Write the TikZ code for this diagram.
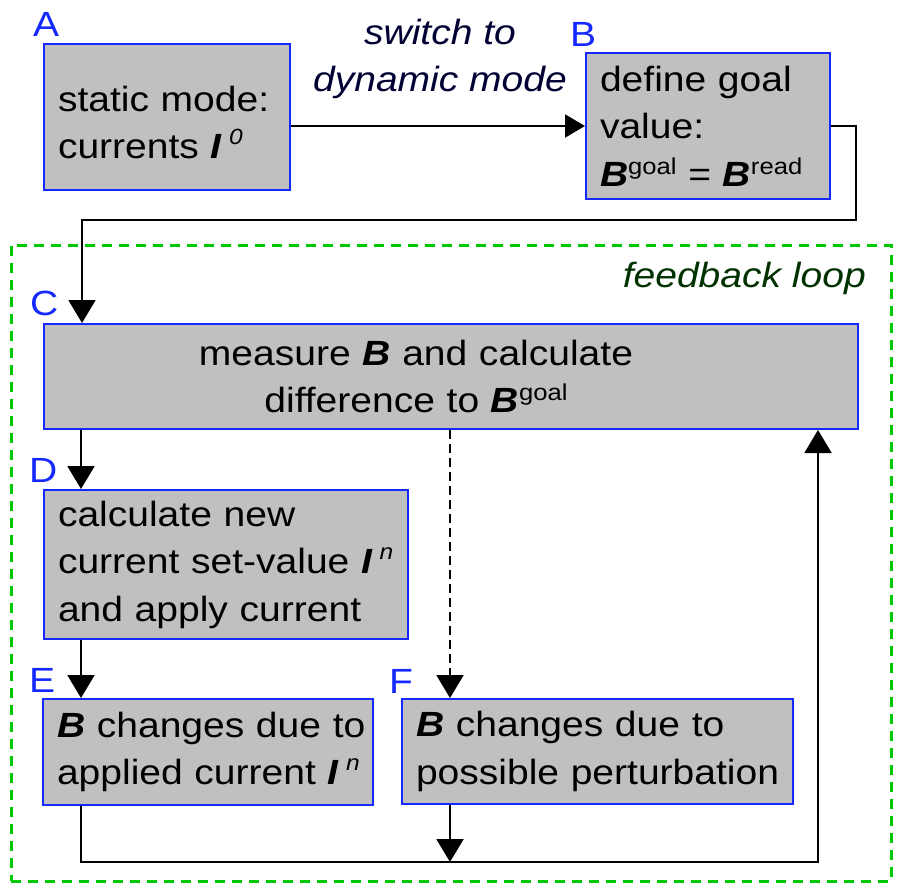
\documentclass[tikz,border=0pt]{standalone}
\usepackage{fontspec}
\setmainfont[FakeStretch=1.115]{Liberation Sans}
\usetikzlibrary{arrows.meta}
\definecolor{boxgray}{RGB}{192,192,192}
\definecolor{boxblue}{RGB}{20,40,255}
\definecolor{loopgreen}{RGB}{0,200,0}
\definecolor{navytext}{RGB}{0,0,50}
\definecolor{loopgreentext}{RGB}{0,50,0}
\newcommand\bfi[1]{\textbf{\textit{#1}}}
\newcommand\supbig[1]{\raisebox{12pt}{\fontsize{23}{23}\selectfont #1}}
\newcommand\supsmall[1]{\kern7pt\raisebox{14pt}{\fontsize{22}{22}\selectfont\itshape #1}}
\begin{document}
\begin{tikzpicture}[x=1pt,y=-1pt,
  font=\fontsize{35}{47.5}\selectfont,
  box/.style={draw=boxblue, fill=boxgray, line width=2pt, inner xsep=14pt, inner ysep=0pt, align=left, anchor=north west},
  lab/.style={text=boxblue, inner sep=0pt, anchor=base west},
  conn/.style={line width=2pt, -{Triangle[length=23pt,width=27pt]}},
  connsmall/.style={line width=2pt, -{Triangle[length=20pt,width=23pt]}},
  loopbox/.style={draw=loopgreen, line width=2.5pt, dash pattern=on 10pt off 7pt, inner sep=0pt, anchor=north west}
]
\useasboundingbox (0,0) rectangle (902,888);

% feedback loop frame
\node[loopbox, minimum width=880pt, minimum height=636pt] (loop) at (10,244) {};
\node[text=loopgreentext, font=\fontsize{35}{47.5}\selectfont\itshape, inner sep=0pt, anchor=base east] (looplab) at (866,287) {feedback loop};

% boxes
\node[box, text width=218pt, minimum height=146pt] (A) at (43,43)
  {\mbox{\rule{0pt}{36pt}static mode:}\\\mbox{currents \bfi{I}\supsmall{0}}};
\node[box, text width=216pt, minimum height=146pt] (B) at (585,52)
  {\mbox{define goal}\\\mbox{value:}\\\mbox{\bfi{B}\supbig{goal} = \bfi{B}\supbig{read}}};
\node[box, text width=786pt, minimum height=105pt, align=center] (C) at (43,323)
  {measure \bfi{B} and calculate\kern70pt\\difference to \bfi{B}\supbig{goal}\kern70pt};
\node[box, text width=336pt, minimum height=149pt] (D) at (43,489)
  {\mbox{calculate new}\\\mbox{current set-value \bfi{I}\supsmall{n}}\\\mbox{and apply current}};
\node[box, text width=302pt, minimum height=106pt] (E) at (42,698)
  {\mbox{\bfi{B} changes due to}\\\mbox{applied current \bfi{I}\supsmall{n}}};
\node[box, text width=363pt, minimum height=105pt] (F) at (401,698)
  {\mbox{\bfi{B} changes due to}\\\mbox{possible perturbation}};

% letters
\node[lab] (LA) at (33,37) {A};
\node[lab] (LB) at (570,47) {B};
\node[lab] (LC) at (30,315) {C};
\node[lab] (LD) at (29,482) {D};
\node[lab] (LE) at (29,692) {E};
\node[lab] (LF) at (389,693) {F};

% switch text
\node[text=navytext, font=\fontsize{35}{47.5}\selectfont\itshape, align=center, inner sep=0pt, anchor=base] (sw) at (440,92)
  {switch to\\dynamic mode};

% connectors
\coordinate (bturn) at (856,220);
\coordinate (fin) at ([xshift=49pt]F.north west);
\coordinate (fout) at ([xshift=49pt]F.south west);
\coordinate (merge) at (450,862);
\coordinate (upx) at (818,862);

\draw[connsmall] (A.east |- B.west) -- (B.west);
\draw[conn] (B.east) -| (bturn) -| ([xshift=39pt]C.north west);
\draw[conn] ([xshift=38pt]C.south west) -- ([xshift=38pt]D.north west);
\draw[conn] ([xshift=38pt]D.south west) -- ([xshift=39pt]E.north west);
\draw[conn, dash pattern=on 9pt off 5pt] (C.south -| fin) -- (fin);
\draw[conn] (fout) -- (merge);
\draw[conn] ([xshift=39pt]E.south west) |- (upx) -- (upx |- C.south);
\end{tikzpicture}
\end{document}
